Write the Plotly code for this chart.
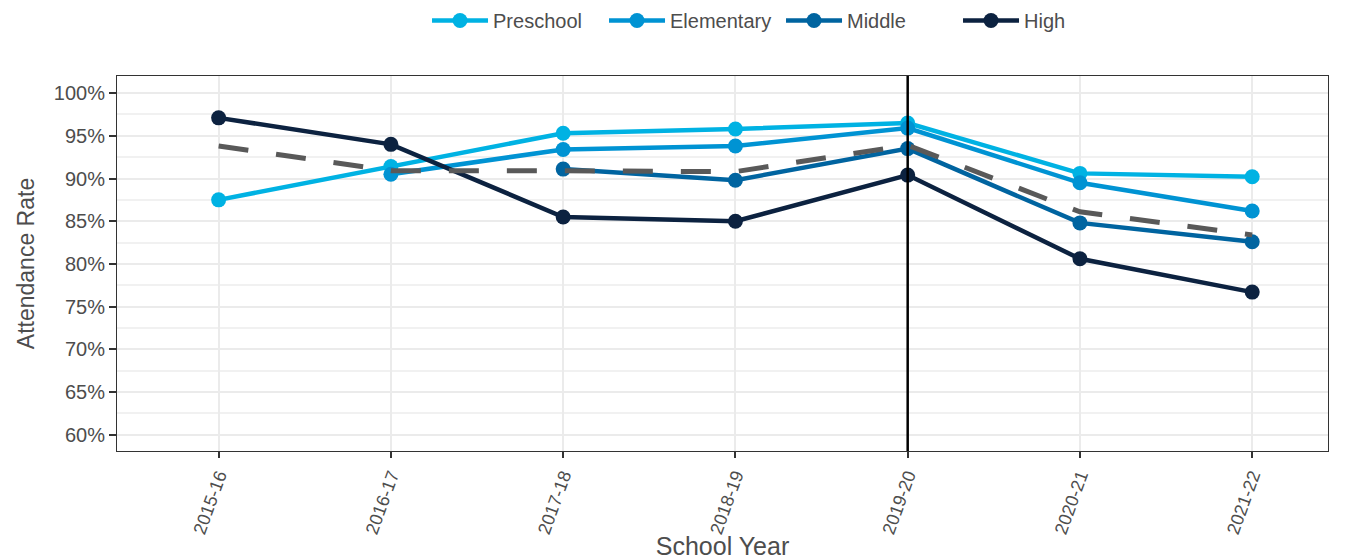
import plotly.graph_objects as go

school_years = ["2015-16", "2016-17", "2017-18", "2018-19", "2019-20", "2020-21", "2021-22"]
preschool = [87.5, 91.4, 95.3, 95.8, 96.5, 90.6, 90.2]
elementary = [None, 90.5, 93.4, 93.8, 95.9, 89.5, 86.2]
middle = [None, None, 91.1, 89.8, 93.5, 84.8, 82.6]
high = [97.1, 94.0, 85.5, 85.0, 90.4, 80.6, 76.7]
overall = [93.8, 90.9, 90.9, 90.8, 93.9, 86.1, 83.4]
y_ticks = [60, 65, 70, 75, 80, 85, 90, 95, 100]
y_tick_labels = [f"{v}%" for v in y_ticks]
covid_year = "2019-20"

series = [
    ("Preschool", preschool, "#00b2e3"),
    ("Elementary", elementary, "#0093d3"),
    ("Middle", middle, "#0064a0"),
    ("High", high, "#0c2240"),
]

fig = go.Figure()
for name, vals, col in series:
    fig.add_trace(go.Scatter(
        x=school_years, y=vals, name=name, mode="lines+markers",
        line=dict(color=col, width=4.5),
        marker=dict(color=col, size=15),
        connectgaps=False,
    ))
fig.add_trace(go.Scatter(
    x=school_years, y=overall, name="Overall", mode="lines",
    line=dict(color="#595959", width=5, dash="30px,28px"),
    showlegend=False,
))

vx = school_years.index(covid_year)
fig.add_shape(type="line", xref="x", yref="paper", x0=vx, x1=vx, y0=0, y1=1,
              line=dict(color="black", width=2.5), layer="above")

fig.update_layout(
    width=1352, height=552,
    margin=dict(l=109, r=32, t=68, b=109, autoexpand=False),
    plot_bgcolor="white", paper_bgcolor="white",
    font=dict(family="Liberation Sans, Arial, sans-serif", color="#4d4d4d"),
    legend=dict(orientation="h", x=0.256, xanchor="left", y=1.096, yanchor="bottom",
                font=dict(size=20, color="#4d4d4d"), itemwidth=56,
                entrywidth=106, entrywidthmode="pixels",
                bgcolor="rgba(0,0,0,0)"),
    showlegend=True,
)
fig.update_xaxes(
    type="category", range=[-0.59, 6.44], automargin=False,
    showgrid=True, gridcolor="#ebebeb", gridwidth=2,
    showline=True, linecolor="#333333", linewidth=1, mirror=True,
    ticks="outside", ticklen=6, tickcolor="#333333", tickwidth=2,
    tickangle=-70, tickfont=dict(size=18, color="#4d4d4d"),
    title=dict(text="School Year", font=dict(size=25, color="#4d4d4d"), standoff=2),
    zeroline=False,
)
fig.update_yaxes(
    range=[58.1, 102.0], tickvals=y_ticks, ticktext=y_tick_labels, automargin=False,
    showgrid=True, gridcolor="#ebebeb", gridwidth=2,
    minor=dict(dtick=2.5, tick0=0, showgrid=True, gridcolor="#f1f1f1", gridwidth=1.5),
    showline=True, linecolor="#333333", linewidth=1, mirror=True,
    ticks="outside", ticklen=7, tickcolor="#333333", tickwidth=2,
    tickfont=dict(size=20, color="#4d4d4d"),
    title=dict(text="Attendance Rate", font=dict(size=23, color="#4d4d4d"), standoff=12),
    zeroline=False,
)

fig.write_html("out.html")
